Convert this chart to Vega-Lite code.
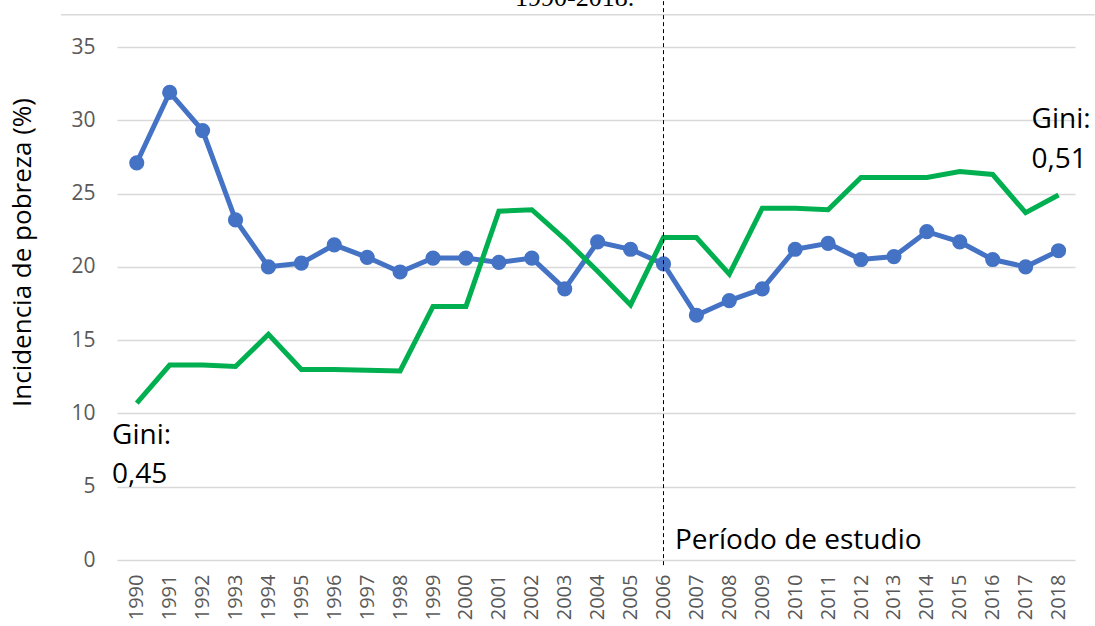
{
  "$schema": "https://vega.github.io/schema/vega-lite/v6.json",
  "width": 958,
  "height": 513,
  "autosize": {"type": "none"},
  "padding": {"left": 117, "top": 47, "right": 20, "bottom": 66},
  "background": "white",
  "config": {"view": {"stroke": null}, "font": "Open Sans", "axisX": {"labelOverlap": false, "labelBound": false}},
  "data": {"values": [
    {"year": 1990, "pobreza": 27.1, "gini": 10.7},
    {"year": 1991, "pobreza": 31.9, "gini": 13.3},
    {"year": 1992, "pobreza": 29.3, "gini": 13.3},
    {"year": 1993, "pobreza": 23.2, "gini": 13.2},
    {"year": 1994, "pobreza": 20.0, "gini": 15.4},
    {"year": 1995, "pobreza": 20.25, "gini": 13.0},
    {"year": 1996, "pobreza": 21.5, "gini": 13.0},
    {"year": 1997, "pobreza": 20.65, "gini": 12.95},
    {"year": 1998, "pobreza": 19.65, "gini": 12.9},
    {"year": 1999, "pobreza": 20.6, "gini": 17.3},
    {"year": 2000, "pobreza": 20.6, "gini": 17.3},
    {"year": 2001, "pobreza": 20.3, "gini": 23.8},
    {"year": 2002, "pobreza": 20.6, "gini": 23.9},
    {"year": 2003, "pobreza": 18.5, "gini": 21.9},
    {"year": 2004, "pobreza": 21.7, "gini": 19.7},
    {"year": 2005, "pobreza": 21.2, "gini": 17.4},
    {"year": 2006, "pobreza": 20.2, "gini": 22.0},
    {"year": 2007, "pobreza": 16.7, "gini": 22.0},
    {"year": 2008, "pobreza": 17.7, "gini": 19.5},
    {"year": 2009, "pobreza": 18.5, "gini": 24.0},
    {"year": 2010, "pobreza": 21.2, "gini": 24.0},
    {"year": 2011, "pobreza": 21.6, "gini": 23.9},
    {"year": 2012, "pobreza": 20.5, "gini": 26.1},
    {"year": 2013, "pobreza": 20.7, "gini": 26.1},
    {"year": 2014, "pobreza": 22.4, "gini": 26.1},
    {"year": 2015, "pobreza": 21.7, "gini": 26.5},
    {"year": 2016, "pobreza": 20.5, "gini": 26.3},
    {"year": 2017, "pobreza": 20.0, "gini": 23.7},
    {"year": 2018, "pobreza": 21.1, "gini": 24.9}
  ]},
  "layer": [
    {
      "mark": {"type": "line", "color": "#4472C4", "strokeWidth": 5, "point": {"filled": true, "size": 230, "color": "#4472C4", "opacity": 1}},
      "encoding": {
        "x": {"field": "year", "type": "quantitative",
          "scale": {"domain": [1989.4, 2018.5], "nice": false, "zero": false},
          "axis": {"values": [1990,1991,1992,1993,1994,1995,1996,1997,1998,1999,2000,2001,2002,2003,2004,2005,2006,2007,2008,2009,2010,2011,2012,2013,2014,2015,2016,2017,2018],
            "tickCount": 40,
            "format": "d", "labelAngle": -90, "labelAlign": "right", "labelBaseline": "middle",
            "labelPadding": 14, "labelFontSize": 20, "labelColor": "#595959",
            "ticks": false, "domain": false, "grid": false, "title": null, "labelOverlap": false, "labelBound": false}},
        "y": {"field": "pobreza", "type": "quantitative",
          "scale": {"domain": [0, 35], "nice": false},
          "axis": {"values": [0,5,10,15,20,25,30,35], "ticks": false, "domain": false,
            "grid": true, "gridColor": "#d9d9d9", "gridWidth": 1.5,
            "labelPadding": 22, "labelFontSize": 21, "labelColor": "#595959",
            "title": "Incidencia de pobreza (%)", "titleFontSize": 26, "titleFontWeight": "normal",
            "titleColor": "#000000", "titleX": -95, "titleY": 205, "titleAngle": -90,
            "titleAlign": "center", "titleBaseline": "middle"}}
      }
    },
    {
      "mark": {"type": "line", "color": "#00B050", "strokeWidth": 5},
      "encoding": {
        "x": {"field": "year", "type": "quantitative"},
        "y": {"field": "gini", "type": "quantitative"}
      }
    },
    {
      "data": {"values": [{}]},
      "mark": {"type": "rule", "color": "#d9d9d9", "strokeWidth": 1.5, "clip": false},
      "encoding": {
        "x": {"datum": 1987.7, "type": "quantitative"},
        "x2": {"datum": 2019.1},
        "y": {"datum": 37.2, "type": "quantitative"}
      }
    },
    {
      "data": {"values": [{}]},
      "mark": {"type": "rule", "color": "#000000", "strokeWidth": 1, "strokeDash": [4, 3], "clip": false},
      "encoding": {
        "x": {"datum": 2006, "type": "quantitative"},
        "y": {"datum": -0.35, "type": "quantitative"},
        "y2": {"datum": 38.5}
      }
    },
    {
      "data": {"values": [
        {"tx": 1989.25, "ty": 8.45, "label": "Gini:"},
        {"tx": 1989.25, "ty": 5.8, "label": "0,45"},
        {"tx": 2017.18, "ty": 30.0, "label": "Gini:"},
        {"tx": 2017.18, "ty": 27.3, "label": "0,51"},
        {"tx": 2006.35, "ty": 1.3, "label": "Período de estudio"}
      ]},
      "mark": {"type": "text", "align": "left", "baseline": "middle", "fontSize": 28, "color": "#000000", "font": "Open Sans", "clip": false},
      "encoding": {
        "x": {"field": "tx", "type": "quantitative"},
        "y": {"field": "ty", "type": "quantitative"},
        "text": {"field": "label"}
      }
    },
    {
      "data": {"values": [{}]},
      "mark": {"type": "text", "align": "center", "baseline": "middle", "fontSize": 26, "font": "Liberation Serif", "color": "#000000", "clip": false},
      "encoding": {
        "x": {"datum": 2003.3, "type": "quantitative"},
        "y": {"datum": 38.35, "type": "quantitative"},
        "text": {"value": "1990-2018."}
      }
    }
  ]
}
